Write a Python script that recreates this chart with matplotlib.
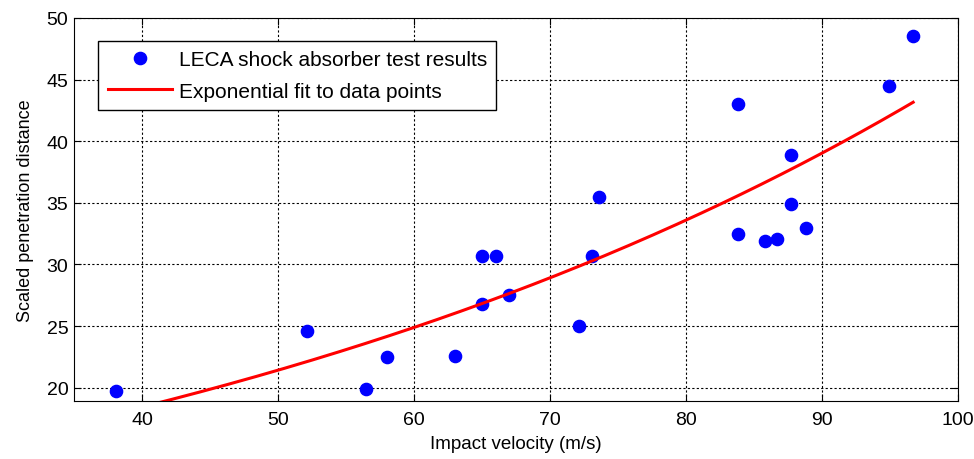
import numpy as np
import matplotlib.pyplot as plt

plt.rcParams['font.family'] = ['Liberation Sans', 'DejaVu Sans']

# valores
velocity = [38.1, 52.1, 56.5, 58.0, 63.0, 65.0, 65.0, 66.0, 67.0, 72.1, 73.1,
            73.6, 83.8, 83.8, 85.8, 86.7, 87.7, 87.7, 88.8, 94.9, 96.7]
distance = [19.7, 24.6, 19.9, 22.5, 22.6, 26.8, 30.7, 30.7, 27.5, 25.0, 30.7,
            35.5, 43.0, 32.5, 31.9, 32.1, 38.9, 34.9, 33.0, 44.5, 48.5]

# ajuste exponencial y = a*exp(b*x)
fit_a = 10.12
fit_b = 0.01500
fit_x = np.linspace(min(velocity), max(velocity), 200)
fit_y = fit_a * np.exp(fit_b * fit_x)

fig = plt.figure(figsize=(9.74, 4.6), dpi=100)
ax = fig.add_axes([0.076, 0.126, 0.9076, 0.8327])

ax.plot(velocity, distance, 'o', color='blue', markersize=8.8,
        label='LECA shock absorber test results')
ax.plot(fit_x, fit_y, '-', color='red', linewidth=2.2,
        label='Exponential fit to data points')

ax.set_xlim(35, 100)
ax.set_ylim(18.92, 50)
ax.set_xticks([40, 50, 60, 70, 80, 90, 100])
ax.set_yticks([20, 25, 30, 35, 40, 45, 50])
ax.tick_params(axis='both', direction='in', labelsize=14, length=5,
               top=True, right=True, labeltop=False, labelright=False)
ax.tick_params(axis='x', pad=7)
ax.tick_params(axis='y', pad=4)
ax.grid(True, color='black', linestyle=(0, (2, 2)), linewidth=0.8)

ax.set_xlabel('Impact velocity (m/s)', fontsize=13.5, labelpad=5)
ax.set_ylabel('Scaled penetration distance', fontsize=13, labelpad=9)

leg = ax.legend(loc='upper left', bbox_to_anchor=(0.0271, 0.941), fontsize=15,
                fancybox=False, edgecolor='black', framealpha=1,
                handlelength=3.07, handletextpad=0.34, borderpad=0.46,
                labelspacing=0.6, borderaxespad=0)
leg.get_frame().set_linewidth(1.0)

fig.savefig('out.png', dpi=100)
